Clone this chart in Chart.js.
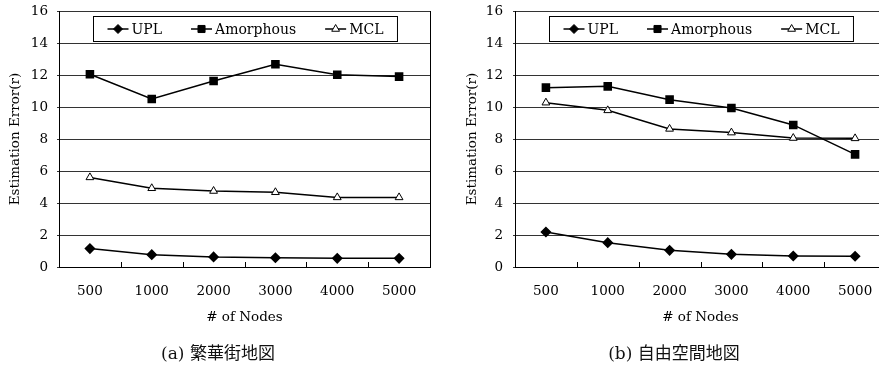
<!DOCTYPE html>
<html>
<head>
<meta charset="utf-8">
<script src="https://cdn.jsdelivr.net/npm/chart.js@4/dist/chart.umd.min.js"></script>
<style>
  html, body { margin: 0; padding: 0; background: #fff; overflow: hidden; }
  body { width: 879px; height: 367px; position: relative; }
  .box { position: absolute; top: 0; height: 367px; }
  .cap { position: absolute; top: 339px; font: 17px "DejaVu Serif", "Noto Sans CJK JP", serif; color: #111; white-space: nowrap; transform: translateX(-50%); }
  .cap span { font-family: "Noto Sans CJK JP", sans-serif; }
</style>
</head>
<body>
<div class="box" style="left:0;width:440px"><canvas id="chartA"></canvas></div>
<div class="box" style="left:440px;width:456px"><canvas id="chartB"></canvas></div>
<div class="cap" style="left:218px">(a) <span>繁華街地図</span></div>
<div class="cap" style="left:674px">(b) <span>自由空間地図</span></div>
<script>
const nodes = ['500', '1000', '2000', '3000', '4000', '5000'];
const yTicks = [0, 2, 4, 6, 8, 10, 12, 14, 16];

// (a) downtown map
const uplA = [1.15, 0.77, 0.63, 0.58, 0.54, 0.54];
const amorphousA = [12.05, 10.5, 11.62, 12.67, 12.02, 11.9];
const mclA = [5.6, 4.92, 4.75, 4.67, 4.35, 4.35];

// (b) free space map
const uplB = [2.19, 1.52, 1.04, 0.79, 0.69, 0.67];
const amorphousB = [11.21, 11.29, 10.46, 9.94, 8.88, 7.04];
const mclB = [10.27, 9.79, 8.63, 8.4, 8.06, 8.04];

const serif = '"DejaVu Serif", "Liberation Serif", serif';

// legend drawn inside the plot, line + marker like the original
const boxLegend = {
  id: 'boxLegend',
  afterDraw(chart) {
    const { ctx, chartArea } = chart;
    ctx.save();
    ctx.font = '14px ' + serif;
    const items = chart.data.datasets.map(ds => ({ ds, w: 24 + ctx.measureText(ds.label).width }));
    const gap = 29, pad = 14, h = 25;
    const w = items.reduce((s, it) => s + it.w, 0) + gap * (items.length - 1) + pad * 2;
    const x0 = Math.round((chartArea.left + chartArea.right) / 2 - w / 2) + 0.5;
    const y0 = chartArea.top + 5.5;
    ctx.fillStyle = '#fff';
    ctx.fillRect(x0, y0, w, h);
    ctx.strokeStyle = '#000';
    ctx.lineWidth = 1;
    ctx.strokeRect(x0, y0, w, h);
    let x = x0 + pad;
    const cy = y0 + h / 2;
    items.forEach(({ ds, w }) => {
      ctx.strokeStyle = '#000';
      ctx.lineWidth = 1.5;
      ctx.beginPath();
      ctx.moveTo(x, cy);
      ctx.lineTo(x + 21, cy);
      ctx.stroke();
      ctx.fillStyle = ds.pointBackgroundColor;
      ctx.lineWidth = 1;
      Chart.helpers.drawPoint(ctx, { pointStyle: ds.pointStyle, radius: ds.pointRadius, borderWidth: 1, rotation: 0 }, x + 10.5, cy);
      ctx.fillStyle = '#000';
      ctx.textBaseline = 'middle';
      ctx.textAlign = 'left';
      ctx.fillText(ds.label, x + 24, cy + 1);
      x += w + gap;
    });
    ctx.restore();
  }
};

// short inward tick marks between categories on the x axis
const innerTicks = {
  id: 'innerTicks',
  afterDraw(chart) {
    const { ctx, chartArea } = chart;
    const xs = chart.scales.x;
    ctx.save();
    ctx.strokeStyle = '#000';
    ctx.lineWidth = 1;
    ctx.beginPath();
    for (let i = 1; i < nodes.length; i++) {
      const px = Math.round((xs.getPixelForValue(i - 1) + xs.getPixelForValue(i)) / 2) + 0.5;
      ctx.moveTo(px, chartArea.bottom);
      ctx.lineTo(px, chartArea.bottom - 5);
    }
    ctx.stroke();
    ctx.restore();
  }
};

function makeChart(id, upl, amorphous, mcl, yWidth, rightPad, tickPad, titlePad) {
  return new Chart(document.getElementById(id), {
    type: 'line',
    data: {
      labels: nodes,
      datasets: [
        { label: 'UPL', data: upl, pointStyle: 'rectRot', pointRadius: 4.5,
          pointBackgroundColor: '#000', pointBorderColor: '#000', borderColor: '#000', borderWidth: 1.5 },
        { label: 'Amorphous', data: amorphous, pointStyle: 'rect', pointRadius: 5,
          pointBackgroundColor: '#000', pointBorderColor: '#000', borderColor: '#000', borderWidth: 1.5 },
        { label: 'MCL', data: mcl, pointStyle: 'triangle', pointRadius: 4.5,
          pointBackgroundColor: '#fff', pointBorderColor: '#000', pointBorderWidth: 1, borderColor: '#000', borderWidth: 1.5 }
      ]
    },
    options: {
      responsive: true,
      maintainAspectRatio: false,
      animation: false,
      events: [],
      layout: { padding: { top: 11, right: rightPad, bottom: 0, left: 0 } },
      plugins: { legend: { display: false }, tooltip: { enabled: false } },
      scales: {
        x: {
          offset: true,
          grid: { display: false },
          border: { color: '#000', width: 1 },
          ticks: { color: '#000', font: { family: serif, size: 13.5 }, padding: 8, maxRotation: 0 },
          title: { display: true, text: '# of Nodes', color: '#000', font: { family: serif, size: 13.5 }, padding: { top: 0, bottom: 41 } },
          afterFit: s => { s.height = 100; s.paddingLeft = 0; s.paddingRight = 0; }
        },
        y: {
          min: 0, max: 16,
          afterBuildTicks: s => { s.ticks = yTicks.map(v => ({ value: v })); },
          grid: { color: '#333', drawTicks: true, tickLength: 2 },
          border: { color: '#000', width: 1 },
          ticks: { color: '#000', font: { family: serif, size: 13.5 }, padding: tickPad },
          title: { display: true, text: 'Estimation Error(r)', color: '#000', font: { family: serif, size: 13.5 }, padding: { top: titlePad, bottom: 0 } },
          afterFit: s => { s.width = yWidth; s.paddingTop = 0; s.paddingBottom = 0; }
        },
        y2: {
          position: 'right',
          display: true,
          ticks: { display: false },
          grid: { drawOnChartArea: false, drawTicks: false },
          border: { color: '#000', width: 1 },
          afterFit: s => { s.width = 0; s.paddingTop = 0; s.paddingBottom = 0; }
        }
      }
    },
    plugins: [innerTicks, boxLegend]
  });
}

makeChart('chartA', uplA, amorphousA, mclA, 59, 10, 9, 7);
makeChart('chartB', uplB, amorphousB, mclB, 75, 10, 10, 24);
</script>
</body>
</html>
